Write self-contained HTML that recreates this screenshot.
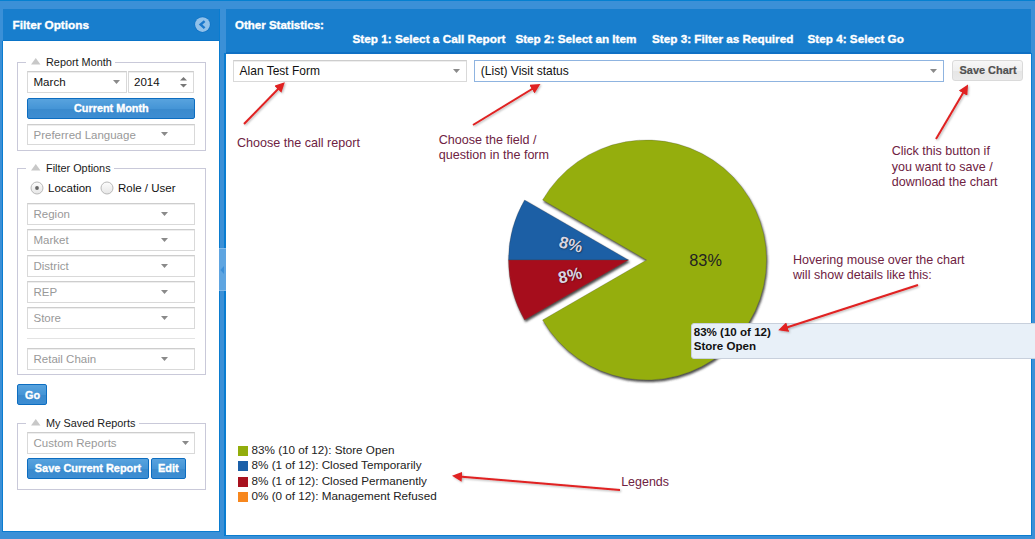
<!DOCTYPE html>
<html><head><meta charset="utf-8"><style>
html,body{margin:0;padding:0;width:1035px;height:539px;overflow:hidden;background:#3b90d7}
body{position:relative;font-family:"Liberation Sans", sans-serif}
.t{position:absolute;white-space:nowrap;font-family:"Liberation Sans", sans-serif}
.r{position:absolute;box-sizing:border-box}
.s{position:absolute;overflow:visible}
</style></head><body>
<div class="r" style="left:0px;top:0px;width:1035px;height:539px;background:#3b90d7"></div>
<div class="r" style="left:0px;top:0px;width:1035px;height:1px;background:#0580d0"></div>
<div class="r" style="left:2px;top:9px;width:218px;height:523px;border:1px solid #0a7cd0;background:#fff"></div>
<div class="r" style="left:2px;top:9px;width:217px;height:32px;background:#187ecd"></div>
<div class="r" style="left:2px;top:9px;width:1px;height:32px;background:#3b90d7"></div>
<div class="r" style="left:3px;top:40px;width:216px;height:1px;background:#0a74c8"></div>
<div class="t" style="left:12.5px;top:19.03px;font-size:11.77px;line-height:11.77px;font-weight:bold;color:#fff;-webkit-text-stroke:0.35px #fff;">Filter Options</div>
<svg class="s" style="left:195px;top:17px" width="15" height="15"><circle cx="7.5" cy="7.6" r="8" fill="#0d70c4"/><circle cx="7.5" cy="7.6" r="7.4" fill="#90c1ea"/><polyline points="9.6,4.1 5.6,7.6 9.6,11.1" fill="none" stroke="#1a78cc" stroke-width="2.4" stroke-linecap="butt" stroke-linejoin="miter"/></svg>
<div class="r" style="left:17px;top:62px;width:189px;height:89px;border:1px solid #c9c9d9"></div>
<div class="r" style="left:26px;top:60px;width:89px;height:5px;background:#fff"></div>
<svg class="s" style="left:31px;top:58px" width="10" height="7"><polygon points="0,6.5 9.5,6.5 4.75,0" fill="#c8c8c8"/></svg>
<div class="t" style="left:46px;top:57.00px;font-size:10.87px;line-height:10.87px;font-weight:normal;color:#1a1a1a;">Report Month</div>
<div class="r" style="left:27px;top:71px;width:100px;height:22px;border:1px solid #d9d9d9;border-top-color:#cdcdcd;background:#fff;box-shadow:inset 0 1px 0 #eee"></div>
<div class="t" style="left:33.5px;top:76.92px;font-size:11.55px;line-height:11.55px;font-weight:normal;color:#111;">March</div>
<svg class="s" style="left:112.5px;top:79.8px" width="7" height="4"><polygon points="0,0 7,0 3.5,4" fill="#8a8a8a"/></svg>
<div class="r" style="left:128px;top:71px;width:66px;height:22px;border:1px solid #d9d9d9;border-top-color:#cdcdcd;background:#fff;box-shadow:inset 0 1px 0 #eee"></div>
<div class="t" style="left:134px;top:76.82px;font-size:11.55px;line-height:11.55px;font-weight:normal;color:#111;">2014</div>
<svg class="s" style="left:179px;top:76px" width="9" height="13"><polygon points="1,4.5 8,4.5 4.5,1" fill="#777"/><polygon points="1,8 8,8 4.5,11.5" fill="#777"/></svg>
<div class="r" style="left:27px;top:98px;width:168px;height:21px;border:1px solid #0d6dc0;border-radius:2px;background:linear-gradient(#58a3de 0%,#4595d6 50%,#3a8acd 51%,#3d8dd2 100%)"></div>
<div class="t" style="left:74px;top:103.11px;font-size:10.85px;line-height:10.85px;font-weight:bold;color:#fff;-webkit-text-stroke:0.35px #fff;">Current Month</div>
<div class="r" style="left:27px;top:124px;width:168px;height:21px;border:1px solid #d9d9d9;border-top-color:#cdcdcd;background:#fff;box-shadow:inset 0 1px 0 #eee"></div>
<div class="t" style="left:33.5px;top:130.06px;font-size:11.5px;line-height:11.5px;font-weight:normal;color:#999;">Preferred Language</div>
<svg class="s" style="left:160.5px;top:132.3px" width="7" height="4"><polygon points="0,0 7,0 3.5,4" fill="#8a8a8a"/></svg>
<div class="r" style="left:17px;top:168px;width:189px;height:207px;border:1px solid #c9c9d9"></div>
<div class="r" style="left:26px;top:166px;width:88px;height:5px;background:#fff"></div>
<svg class="s" style="left:31px;top:164px" width="10" height="7"><polygon points="0,6.5 9.5,6.5 4.75,0" fill="#c8c8c8"/></svg>
<div class="t" style="left:46px;top:163.00px;font-size:10.87px;line-height:10.87px;font-weight:normal;color:#1a1a1a;">Filter Options</div>
<svg class="s" style="left:30px;top:181px" width="14" height="14"><defs><linearGradient id="rg" x1="0" y1="0" x2="0" y2="1"><stop offset="0" stop-color="#fdfdfd"/><stop offset="1" stop-color="#e6e6e6"/></linearGradient></defs><circle cx="7" cy="7" r="6" fill="url(#rg)" stroke="#b9b9b9" stroke-width="1"/><circle cx="7" cy="7" r="1.9" fill="#666"/></svg>
<div class="t" style="left:48px;top:182.76px;font-size:11.5px;line-height:11.5px;font-weight:normal;color:#111;">Location</div>
<svg class="s" style="left:100px;top:181px" width="14" height="14"><circle cx="7" cy="7" r="6" fill="url(#rg)" stroke="#b9b9b9" stroke-width="1"/></svg>
<div class="t" style="left:118px;top:182.76px;font-size:11.5px;line-height:11.5px;font-weight:normal;color:#111;">Role / User</div>
<div class="r" style="left:27px;top:203px;width:168px;height:22px;border:1px solid #d9d9d9;border-top-color:#cdcdcd;background:#fff;box-shadow:inset 0 1px 0 #eee"></div>
<div class="t" style="left:33.5px;top:208.86px;font-size:11.5px;line-height:11.5px;font-weight:normal;color:#999;">Region</div>
<svg class="s" style="left:160.5px;top:211.8px" width="7" height="4"><polygon points="0,0 7,0 3.5,4" fill="#8a8a8a"/></svg>
<div class="r" style="left:27px;top:229px;width:168px;height:22px;border:1px solid #d9d9d9;border-top-color:#cdcdcd;background:#fff;box-shadow:inset 0 1px 0 #eee"></div>
<div class="t" style="left:33.5px;top:234.86px;font-size:11.5px;line-height:11.5px;font-weight:normal;color:#999;">Market</div>
<svg class="s" style="left:160.5px;top:237.8px" width="7" height="4"><polygon points="0,0 7,0 3.5,4" fill="#8a8a8a"/></svg>
<div class="r" style="left:27px;top:255px;width:168px;height:22px;border:1px solid #d9d9d9;border-top-color:#cdcdcd;background:#fff;box-shadow:inset 0 1px 0 #eee"></div>
<div class="t" style="left:33.5px;top:260.86px;font-size:11.5px;line-height:11.5px;font-weight:normal;color:#999;">District</div>
<svg class="s" style="left:160.5px;top:263.8px" width="7" height="4"><polygon points="0,0 7,0 3.5,4" fill="#8a8a8a"/></svg>
<div class="r" style="left:27px;top:281px;width:168px;height:22px;border:1px solid #d9d9d9;border-top-color:#cdcdcd;background:#fff;box-shadow:inset 0 1px 0 #eee"></div>
<div class="t" style="left:33.5px;top:286.86px;font-size:11.5px;line-height:11.5px;font-weight:normal;color:#999;">REP</div>
<svg class="s" style="left:160.5px;top:289.8px" width="7" height="4"><polygon points="0,0 7,0 3.5,4" fill="#8a8a8a"/></svg>
<div class="r" style="left:27px;top:307px;width:168px;height:22px;border:1px solid #d9d9d9;border-top-color:#cdcdcd;background:#fff;box-shadow:inset 0 1px 0 #eee"></div>
<div class="t" style="left:33.5px;top:312.86px;font-size:11.5px;line-height:11.5px;font-weight:normal;color:#999;">Store</div>
<svg class="s" style="left:160.5px;top:315.8px" width="7" height="4"><polygon points="0,0 7,0 3.5,4" fill="#8a8a8a"/></svg>
<div class="r" style="left:27px;top:338px;width:168px;height:1px;background:#e3e3e3"></div>
<div class="r" style="left:27px;top:348px;width:168px;height:22px;border:1px solid #d9d9d9;border-top-color:#cdcdcd;background:#fff;box-shadow:inset 0 1px 0 #eee"></div>
<div class="t" style="left:33.5px;top:353.86px;font-size:11.5px;line-height:11.5px;font-weight:normal;color:#999;">Retail Chain</div>
<svg class="s" style="left:160.5px;top:356.8px" width="7" height="4"><polygon points="0,0 7,0 3.5,4" fill="#8a8a8a"/></svg>
<div class="r" style="left:17px;top:384px;width:30px;height:21px;border:1px solid #0d6dc0;border-radius:2px;background:linear-gradient(#58a3de 0%,#4595d6 50%,#3a8acd 51%,#3d8dd2 100%)"></div>
<div class="t" style="left:25px;top:389.51px;font-size:10.85px;line-height:10.85px;font-weight:bold;color:#fff;-webkit-text-stroke:0.35px #fff;">Go</div>
<div class="r" style="left:17px;top:423px;width:189px;height:67px;border:1px solid #c9c9d9"></div>
<div class="r" style="left:26px;top:421px;width:113px;height:5px;background:#fff"></div>
<svg class="s" style="left:31px;top:419px" width="10" height="7"><polygon points="0,6.5 9.5,6.5 4.75,0" fill="#c8c8c8"/></svg>
<div class="t" style="left:46px;top:418.00px;font-size:10.87px;line-height:10.87px;font-weight:normal;color:#1a1a1a;">My Saved Reports</div>
<div class="r" style="left:27px;top:432px;width:168px;height:22px;border:1px solid #d9d9d9;border-top-color:#cdcdcd;background:#fff;box-shadow:inset 0 1px 0 #eee"></div>
<div class="t" style="left:33.5px;top:437.86px;font-size:11.5px;line-height:11.5px;font-weight:normal;color:#999;">Custom Reports</div>
<svg class="s" style="left:181.5px;top:440.8px" width="7" height="4"><polygon points="0,0 7,0 3.5,4" fill="#8a8a8a"/></svg>
<div class="r" style="left:27px;top:458px;width:122px;height:21px;border:1px solid #0d6dc0;border-radius:2px;background:linear-gradient(#58a3de 0%,#4595d6 50%,#3a8acd 51%,#3d8dd2 100%)"></div>
<div class="t" style="left:34.8px;top:462.73px;font-size:10.95px;line-height:10.95px;font-weight:bold;color:#fff;-webkit-text-stroke:0.35px #fff;">Save Current Report</div>
<div class="r" style="left:151px;top:458px;width:35px;height:21px;border:1px solid #0d6dc0;border-radius:2px;background:linear-gradient(#58a3de 0%,#4595d6 50%,#3a8acd 51%,#3d8dd2 100%)"></div>
<div class="t" style="left:158px;top:462.73px;font-size:10.95px;line-height:10.95px;font-weight:bold;color:#fff;-webkit-text-stroke:0.35px #fff;">Edit</div>
<div class="r" style="left:220px;top:9px;width:6px;height:527px;background:#3b90d7"></div>
<div class="r" style="left:224px;top:53px;width:808px;height:483px;border:1px solid #0a7cd0;border-left:2px solid #0a7cd0;border-top:0;background:#fff"></div>
<div class="r" style="left:219px;top:248px;width:7px;height:43px;background:#5ea5e1;box-shadow:inset 0 1px 0 #82baea, inset 0 -1px 0 #82baea"></div>
<svg class="s" style="left:219px;top:265px" width="7" height="10"><polygon points="5,1 1.4,5 5,9" fill="#3b8fd8"/></svg>
<div class="r" style="left:226px;top:9px;width:805px;height:44px;background:#187ecd"></div>
<div class="r" style="left:226px;top:52px;width:805px;height:2px;background:#0f70c4"></div>
<div class="t" style="left:235px;top:19.75px;font-size:11.52px;line-height:11.52px;font-weight:bold;color:#fff;-webkit-text-stroke:0.35px #fff;">Other Statistics:</div>
<div class="t" style="left:352.4px;top:33.33px;font-size:11.77px;line-height:11.77px;font-weight:bold;color:#fff;-webkit-text-stroke:0.35px #fff;">Step 1: Select a Call Report</div>
<div class="t" style="left:515.4px;top:33.39px;font-size:11.71px;line-height:11.71px;font-weight:bold;color:#fff;-webkit-text-stroke:0.35px #fff;">Step 2: Select an Item</div>
<div class="t" style="left:652px;top:33.37px;font-size:11.73px;line-height:11.73px;font-weight:bold;color:#fff;-webkit-text-stroke:0.35px #fff;">Step 3: Filter as Required</div>
<div class="t" style="left:807.5px;top:33.37px;font-size:11.73px;line-height:11.73px;font-weight:bold;color:#fff;-webkit-text-stroke:0.35px #fff;">Step 4: Select Go</div>
<div class="r" style="left:233px;top:60px;width:234px;height:22px;border:1px solid #d9d9d9;border-top-color:#cdcdcd;background:#fff;box-shadow:inset 0 1px 0 #eee"></div>
<div class="t" style="left:239.6px;top:64.85px;font-size:11.99px;line-height:11.99px;font-weight:normal;color:#111;">Alan Test Form</div>
<svg class="s" style="left:453.0px;top:69.0px" width="7" height="4"><polygon points="0,0 7,0 3.5,4" fill="#8a8a8a"/></svg>
<div class="r" style="left:474px;top:60px;width:470px;height:22px;border:1px solid #8fb4e0;background:#fff"></div>
<div class="t" style="left:480.8px;top:64.81px;font-size:12.03px;line-height:12.03px;font-weight:normal;color:#111;">(List) Visit status</div>
<svg class="s" style="left:929.5px;top:69.0px" width="7" height="4"><polygon points="0,0 7,0 3.5,4" fill="#8a8a8a"/></svg>
<div class="r" style="left:952px;top:60px;width:71px;height:21px;border:1px solid #dadada;border-radius:3px;background:linear-gradient(#f7f7f7 0%,#efefef 50%,#e6e6e6 51%,#eaeaea 100%)"></div>
<div class="t" style="left:959.6px;top:64.96px;font-size:10.91px;line-height:10.91px;font-weight:bold;color:#505050;-webkit-text-stroke:0.2px #505050;">Save Chart</div>
<div class="t" style="left:237px;top:137.26px;font-size:12.57px;line-height:12.57px;font-weight:normal;color:#6e2242;">Choose the call report</div>
<div class="t" style="left:438.7px;top:134.16px;font-size:12.57px;line-height:12.57px;font-weight:normal;color:#6e2242;">Choose the field /</div>
<div class="t" style="left:438.7px;top:148.86px;font-size:12.57px;line-height:12.57px;font-weight:normal;color:#6e2242;">question in the form</div>
<div class="t" style="left:891.7px;top:145.38px;font-size:12.54px;line-height:12.54px;font-weight:normal;color:#6e2242;">Click this button if</div>
<div class="t" style="left:891.7px;top:160.88px;font-size:12.54px;line-height:12.54px;font-weight:normal;color:#6e2242;">you want to save /</div>
<div class="t" style="left:891.7px;top:175.88px;font-size:12.54px;line-height:12.54px;font-weight:normal;color:#6e2242;">download the chart</div>
<div class="t" style="left:793px;top:253.77px;font-size:12.56px;line-height:12.56px;font-weight:normal;color:#6e2242;">Hovering mouse over the chart</div>
<div class="t" style="left:793px;top:269.37px;font-size:12.56px;line-height:12.56px;font-weight:normal;color:#6e2242;">will show details like this:</div>
<div class="t" style="left:621.2px;top:475.65px;font-size:12.46px;line-height:12.46px;font-weight:normal;color:#6e2242;">Legends</div>
<svg class="s" style="left:0;top:0" width="1035" height="539">
<defs><filter id="sh" x="-10%" y="-10%" width="130%" height="130%"><feGaussianBlur in="SourceAlpha" stdDeviation="0.8" result="b"/><feOffset in="b" dx="1.2" dy="1.5" result="o"/><feFlood flood-color="#3a3a3a" flood-opacity="0.9" result="f"/><feComposite in="f" in2="o" operator="in" result="s"/><feMerge><feMergeNode in="s"/><feMergeNode in="SourceGraphic"/></feMerge></filter></defs>
<g filter="url(#sh)">
<path d="M646.5,260 L542.58,200.00 A120,120 0 1 1 542.58,320.00 Z" fill="#95ae0c" stroke="rgba(60,60,60,0.35)" stroke-width="0.7"/>
</g>
<g filter="url(#sh)">
<path d="M628.5,260 L524.58,200.00 A120,120 0 0 0 508.50,260.00 Z" fill="#1b5ea5" stroke="rgba(60,60,60,0.35)" stroke-width="0.7"/>
<path d="M628.5,260 L508.50,260.00 A120,120 0 0 0 524.58,320.00 Z" fill="#a6111f" stroke="rgba(60,60,60,0.35)" stroke-width="0.7"/>
</g>
</svg>
<div class="t" style="left:689.3px;top:252.40px;font-size:16.3px;line-height:16.3px;font-weight:normal;color:#222;">83%</div>
<div class="t" style="left:541px;top:234px;width:60px;height:20px;line-height:20px;text-align:center;font-size:16.5px;font-weight:bold;color:#d9d5e3;text-shadow:0.5px 0.5px 1.5px rgba(0,0,0,0.7);transform:rotate(14deg)">8%</div>
<div class="t" style="left:540px;top:265px;width:60px;height:20px;line-height:20px;text-align:center;font-size:16.5px;font-weight:bold;color:#d9d5e3;text-shadow:0.5px 0.5px 1.5px rgba(0,0,0,0.7);transform:rotate(-14deg)">8%</div>
<div class="r" style="left:691px;top:323px;width:400px;height:36px;border:1px solid #c8d0dc;border-radius:3px;background:#e8f0f8"></div>
<div class="t" style="left:693.7px;top:327.49px;font-size:11.59px;line-height:11.59px;font-weight:bold;color:#111;">83% (10 of 12)</div>
<div class="t" style="left:693.7px;top:341.19px;font-size:11.59px;line-height:11.59px;font-weight:bold;color:#111;">Store Open</div>
<div class="r" style="left:238px;top:446px;width:10px;height:10px;background:#92ad0c"></div>
<div class="t" style="left:251.5px;top:444.10px;font-size:11.69px;line-height:11.69px;font-weight:normal;color:#222;">83% (10 of 12): Store Open</div>
<div class="r" style="left:238px;top:461px;width:10px;height:10px;background:#1a5fa8"></div>
<div class="t" style="left:251.5px;top:459.45px;font-size:11.69px;line-height:11.69px;font-weight:normal;color:#222;">8% (1 of 12): Closed Temporarily</div>
<div class="r" style="left:238px;top:477px;width:10px;height:10px;background:#a8121f"></div>
<div class="t" style="left:251.5px;top:474.80px;font-size:11.69px;line-height:11.69px;font-weight:normal;color:#222;">8% (1 of 12): Closed Permanently</div>
<div class="r" style="left:238px;top:492px;width:10px;height:10px;background:#f7871e"></div>
<div class="t" style="left:251.5px;top:490.15px;font-size:11.69px;line-height:11.69px;font-weight:normal;color:#222;">0% (0 of 12): Management Refused</div>
<svg class="s" style="left:0;top:0" width="1035" height="539"><defs><marker id="ah2" viewBox="0 0 10 10" refX="6" refY="5" markerWidth="5" markerHeight="5" orient="auto"><path d="M0,0 L10,5 L0,10 z" fill="#e02020"/></marker><filter id="ash" x="-20%" y="-20%" width="140%" height="140%"><feGaussianBlur in="SourceAlpha" stdDeviation="0.8" result="b"/><feOffset in="b" dx="0.5" dy="1.2" result="o"/><feFlood flood-color="#000" flood-opacity="0.3" result="f"/><feComposite in="f" in2="o" operator="in" result="s"/><feMerge><feMergeNode in="s"/><feMergeNode in="SourceGraphic"/></feMerge></filter></defs><g filter="url(#ash)"><line x1="244" y1="124" x2="282" y2="85" stroke="#e02020" stroke-width="2" marker-end="url(#ah2)"/><line x1="473" y1="125" x2="537" y2="86" stroke="#e02020" stroke-width="2" marker-end="url(#ah2)"/><line x1="936" y1="139" x2="966" y2="88" stroke="#e02020" stroke-width="2" marker-end="url(#ah2)"/><line x1="918" y1="285" x2="782" y2="329" stroke="#e02020" stroke-width="2" marker-end="url(#ah2)"/><line x1="620" y1="490" x2="456" y2="476.2" stroke="#e02020" stroke-width="2" marker-end="url(#ah2)"/></g></svg>
</body></html>
